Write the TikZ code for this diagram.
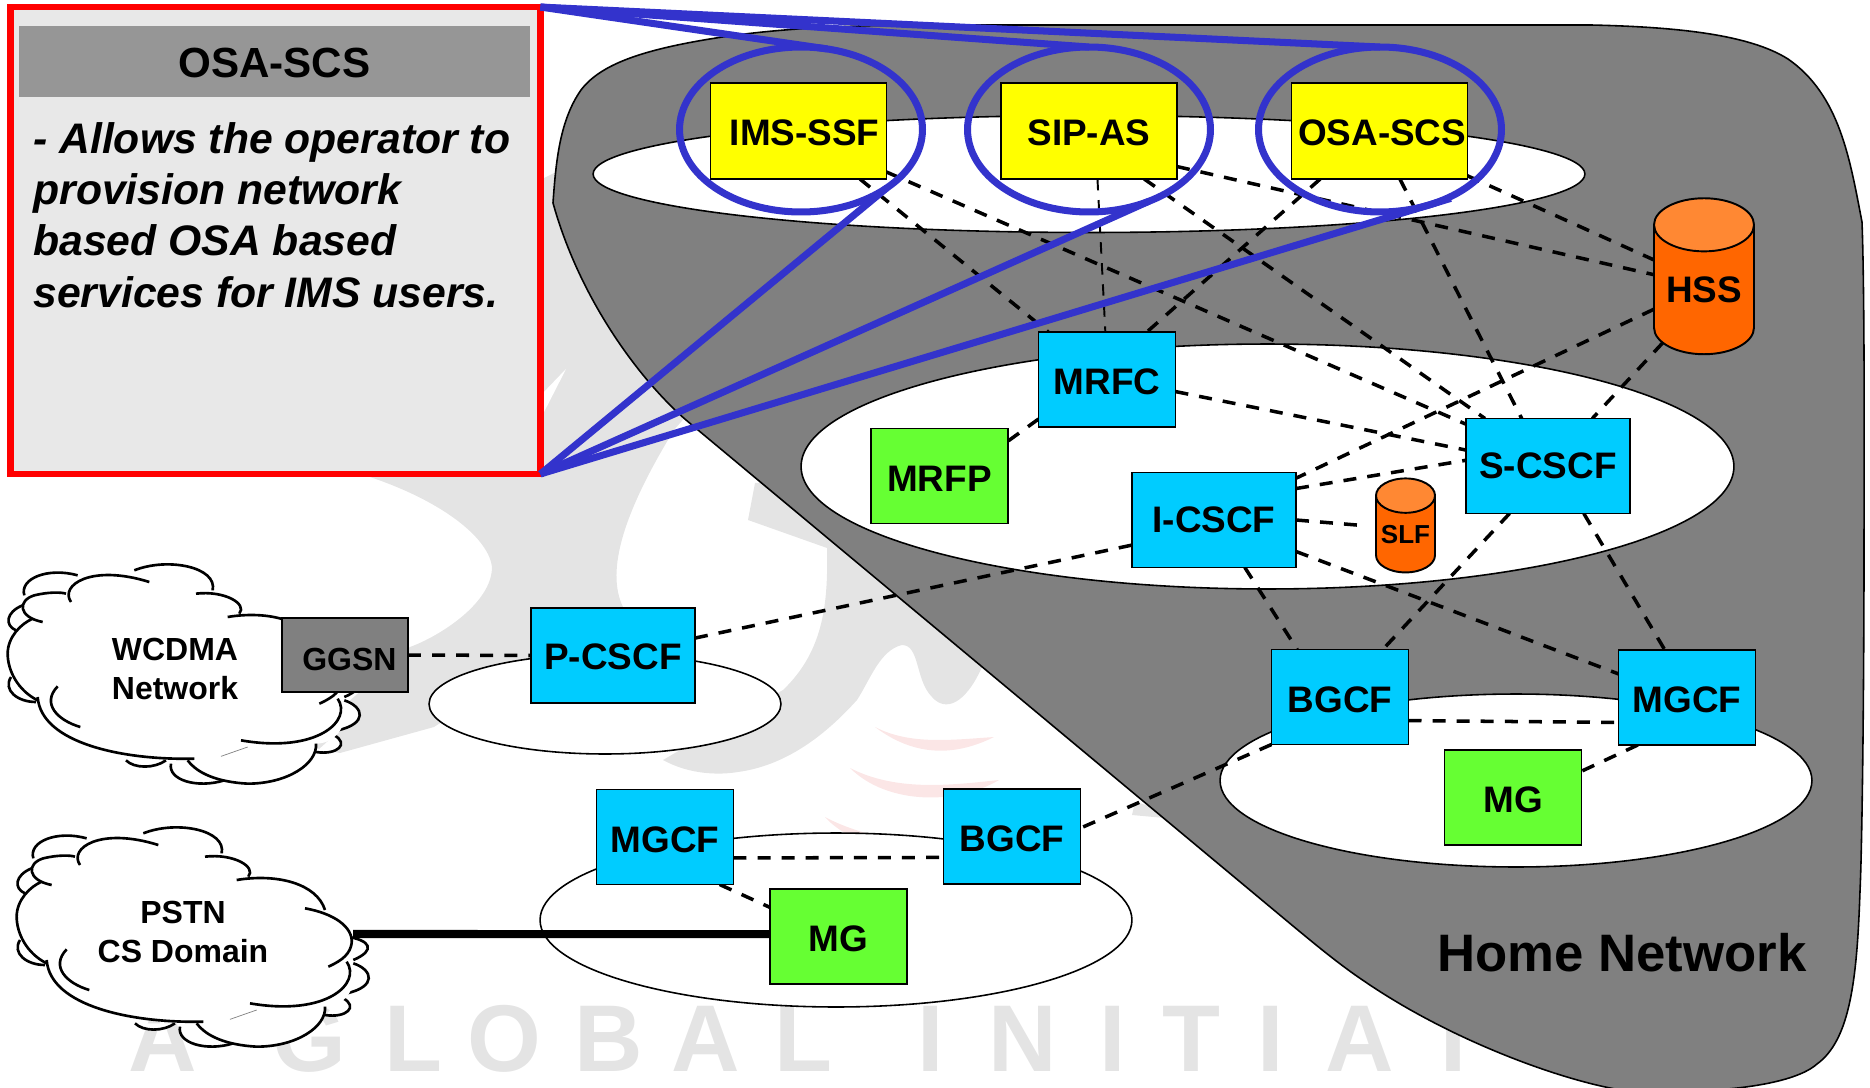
\documentclass[tikz,border=0pt]{standalone}
\usepackage{fontspec}
\setmainfont{Liberation Sans}
\usetikzlibrary{shapes.geometric}
\definecolor{boxyellow}{HTML}{FFFF00}
\definecolor{boxblue}{HTML}{00CCFF}
\definecolor{boxgreen}{HTML}{66FF33}
\definecolor{cylbody}{HTML}{FF6600}
\definecolor{cyltop}{HTML}{FF8833}
\definecolor{homegrey}{HTML}{808080}
\definecolor{ringblue}{HTML}{3333CC}
\definecolor{markgrey}{HTML}{E4E4E4}
\definecolor{markpink}{HTML}{FBE6E6}
\pgfdeclarelayer{base}
\pgfdeclarelayer{links}
\pgfdeclarelayer{over}
\pgfsetlayers{base,links,main,over}
\tikzset{
	netbox/.style={draw,line width=1.1pt,inner sep=0pt,outer sep=0pt,font=\bfseries\fontsize{21}{24}\selectfont},
	appbox/.style={netbox,fill=boxyellow,minimum width=3.52cm,minimum height=1.92cm,text height=16.5pt,text depth=0pt},
	cscfbox/.style={netbox,fill=boxblue,minimum width=3.28cm,minimum height=1.9cm},
	ctrlbox/.style={netbox,fill=boxblue,minimum width=2.74cm,minimum height=1.9cm,text height=17.4pt,text depth=0pt},
	gwbox/.style={netbox,fill=boxgreen,minimum width=2.74cm,minimum height=1.9cm,text height=17.6pt,text depth=0pt},
	dbcyl/.style={cylinder,shape border rotate=90,draw,line width=1.1pt,inner sep=0pt,outer sep=0pt,aspect=0.7,
		cylinder uses custom fill,cylinder body fill=cylbody,cylinder end fill=cyltop},
	lanzone/.style={ellipse,draw,line width=0.9pt,fill=white,inner sep=0pt,outer sep=0pt},
	bluering/.style={ellipse,draw=ringblue,line width=4pt,inner sep=0pt,outer sep=0pt,minimum width=4.86cm,minimum height=3.3cm},
	netlink/.style={line width=2pt,dash pattern=on 7.4pt off 6.3pt},
	thinlink/.style={line width=1.1pt,dash pattern=on 6.5pt off 5.5pt},
	bluelink/.style={draw=ringblue,line width=4pt},
	cloudtext/.style={font=\bfseries\fontsize{18.2}{22.4}\selectfont,align=center,inner sep=0pt},
	marktext/.style={anchor=base,inner sep=0pt,text=markgrey,font=\bfseries\fontsize{54}{60}\selectfont},
	netcloud/.pic={
		\begin{scope}[scale=1/3,line width=1.5pt]
			% lobes behind the body
			\draw[fill=white] (100,145) .. controls (85,95) and (170,60) .. (260,85);
			\draw[fill=white] (95,175) .. controls (45,195) and (40,235) .. (75,250);
			\draw[fill=white] (60,390) .. controls (35,430) and (80,465) .. (135,465);
			\draw[fill=white] (405,640) .. controls (430,665) and (490,665) .. (525,640);
			\draw[fill=white] (540,650) .. controls (530,700) and (620,725) .. (700,700);
			\draw[fill=white] (975,615) .. controls (1040,625) and (1075,590) .. (1030,565);
			\draw[fill=white] (1040,380) .. controls (1110,390) and (1130,420) .. (1060,450);
			\draw[fill=white] (1060,460) .. controls (1120,480) and (1130,530) .. (1040,550);
			% body
			\fill[white] (130,145) .. controls (170,135) and (210,135) .. (232,130)
				.. controls (250,80) and (350,65) .. (430,70)
				.. controls (530,30) and (680,60) .. (665,130)
				.. controls (700,130) and (770,170) .. (745,200)
				.. controls (830,190) and (950,220) .. (975,300)
				.. controls (1030,320) and (1060,350) .. (1055,400)
				.. controls (1055,430) and (1050,440) .. (1045,455)
				.. controls (1085,520) and (1040,590) .. (975,590)
				.. controls (980,650) and (890,710) .. (770,710)
				.. controls (680,705) and (620,680) .. (590,640)
				.. controls (400,640) and (150,590) .. (140,460)
				.. controls (80,430) and (50,370) .. (50,320)
				.. controls (50,270) and (90,230) .. (125,215)
				.. controls (80,210) and (80,160) .. cycle;
			% strokes of the body
			\draw (240,165) .. controls (205,115) and (300,50) .. (475,105);
			\draw (430,70) .. controls (530,30) and (680,60) .. (665,130);
			\draw (615,140) .. controls (700,130) and (770,170) .. (745,200);
			\draw (710,210) .. controls (830,190) and (950,220) .. (975,300);
			\draw (915,295) .. controls (1000,310) and (1060,350) .. (1055,400) .. controls (1050,430) and (1030,450) .. (985,470);
			\draw (1040,455) .. controls (1085,520) and (980,620) .. (750,580);
			\draw (975,590) .. controls (980,650) and (890,710) .. (770,710) .. controls (680,705) and (620,680) .. (590,640);
			\draw (610,635) .. controls (400,640) and (150,590) .. (140,450);
			\draw (200,418) .. controls (150,470) and (200,520) .. (268,540);
			\draw (140,460) .. controls (80,430) and (50,370) .. (50,320) .. controls (50,270) and (90,230) .. (125,215);
			\draw (155,225) .. controls (80,210) and (80,160) .. (130,145) .. controls (170,135) and (210,135) .. (225,140);
			\draw[gray,line width=0.4pt] (690,628) -- (770,600);
		\end{scope}
	}
}
\begin{document}
\begin{tikzpicture}[x=0.02cm,y=-0.02cm]
	\useasboundingbox (0,0) rectangle (1870,1088);
	\begin{pgfonlayer}{base}
		% faded mark behind everything
		\fill[markgrey] (300,300) -- (370,477) .. controls (447,503) and (489,540) .. (492,567)
			.. controls (492,603) and (440,636) .. (410,647) -- (300,745) -- (340,753) -- (434,727)
			-- (623,607) .. controls (605,570) and (625,510) .. (674,430) -- (700,400) -- (600,150) -- cycle;
		\fill[white] (541,395) -- (566,369) -- (541,418) -- cycle;
		\fill[markgrey] (755,483) -- (748,520) -- (827,548) .. controls (828,600) and (825,650) .. (783,690)
			-- (663,760) .. controls (690,775) and (720,775) .. (738,772)
			.. controls (790,765) and (830,730) .. (857,700) .. controls (870,680) and (880,650) .. (902,645)
			.. controls (920,645) and (915,680) .. (932,697) .. controls (945,712) and (965,705) .. (982,667)
			-- (1000,600) -- (900,480) -- cycle;
		\fill[markgrey] (1132,815) -- (1135,802) -- (1150,806) -- (1165,818) -- cycle;
		\fill[markpink] (875,727) .. controls (912,755) and (952,758) .. (994,737) .. controls (950,740) and (910,745) .. (875,727);
		\fill[markpink] (850,768) .. controls (887,805) and (957,805) .. (999,780) .. controls (952,785) and (897,792) .. (850,768);
		\fill[markpink] (825,817) .. controls (832,825) and (840,830) .. (848,835) -- (872,835) .. controls (855,830) and (840,825) .. (825,817);
		\foreach \mchar/\mx in {A/162.5,G/309,L/413,O/504,B/609,A/706,L/803,I/931,N/1023,I/1113,T/1191,I/1271,A/1360,T/1453}
			\node[marktext] (mark\mx) at (\mx,1071) {\mchar};
		% home network
		\draw[fill=homegrey,line width=0.9pt] (553,203) .. controls (556,160) and (560,120) .. (581,90)
			.. controls (600,65) and (640,50) .. (716,38) .. controls (780,28) and (850,25) .. (935,25)
			-- (1591,25) .. controls (1680,27) and (1750,35) .. (1788,59)
			.. controls (1840,95) and (1850,160) .. (1862,222) .. controls (1865,300) and (1864,500) .. (1864,544)
			.. controls (1864,700) and (1862,850) .. (1860,891) .. controls (1857,980) and (1850,1040) .. (1817,1064)
			.. controls (1790,1088) and (1700,1095) .. (1621,1090) .. controls (1560,1080) and (1450,1040) .. (1364,981)
			.. controls (1340,965) and (1316,945) .. (1293,926) -- (686,420)
			.. controls (640,380) and (580,300) .. (553,203) -- cycle;
		\node[lanzone,minimum width=19.84cm,minimum height=2.34cm] (lanapps) at (1089,174) {};
		\node[lanzone,minimum width=18.66cm,minimum height=4.9cm] (lancore) at (1267.5,466.5) {};
		\node[lanzone,minimum width=11.84cm,minimum height=3.46cm] (lanhome) at (1516,780.5) {};
		\node[lanzone,minimum width=11.84cm,minimum height=3.48cm] (lanpstn) at (836,920) {};
		\node[lanzone,minimum width=7.04cm,minimum height=2cm] (lanproxy) at (605,704) {};
	\end{pgfonlayer}

	% info box
	\node[draw=red,fill=black!9,line width=3.8pt,inner sep=0pt,outer sep=0pt,minimum width=10.6cm,minimum height=9.34cm] (osainfo) at (275.5,240.5) {};
	\node[fill=black!41,inner sep=0pt,minimum width=10.22cm,minimum height=1.42cm,text height=18.5pt,text depth=0pt,font=\bfseries\fontsize{24}{28}\selectfont] (osatitle) at (274.5,61.5) {OSA-SCS};
	\node[anchor=north west,inner sep=0pt,align=left,font=\bfseries\itshape\fontsize{24.3}{29.2}\selectfont] (osabody) at (33,122) {- Allows the operator to\\provision network\\based OSA based\\services for IMS users.};

	% clouds
	\pic at (-9,547) {netcloud};
	\pic at (0,810) {netcloud};
	\node[cloudtext] (wcdma) at (175,669) {WCDMA\\Network};
	\node[cloudtext] (pstn) at (183,932) {PSTN\\CS Domain};
	\coordinate (pstnport) at (353,934);

	% network elements
	\node[appbox] (imsssf) at (798.5,131) {\hspace*{7pt}IMS-SSF};
	\node[appbox] (sipas) at (1089,131) {SIP-AS};
	\node[appbox] (osascs) at (1379.5,131) {\hspace*{3pt}OSA-SCS};
	\node[ctrlbox] (mrfc) at (1107,379.5) {MRFC};
	\node[gwbox] (mrfp) at (939.5,476) {MRFP};
	\node[cscfbox] (icscf) at (1214,520) {I-CSCF};
	\node[cscfbox] (scscf) at (1548,466) {S-CSCF};
	\node[cscfbox,text height=15.5pt,text depth=0pt] (pcscf) at (613,655.5) {P-CSCF};
	\node[netbox,fill=homegrey,minimum width=2.52cm,minimum height=1.48cm,text height=18pt,text depth=0pt,font=\bfseries\fontsize{18.2}{21}\selectfont] (ggsn) at (345,655) {\hspace*{5pt}GGSN};
	\node[ctrlbox] (mgcflow) at (665,837) {MGCF};
	\node[gwbox] (mglow) at (838.5,936.5) {MG};
	\node[ctrlbox] (bgcflow) at (1012,836.5) {BGCF};
	\node[ctrlbox] (bgcfup) at (1340,697) {BGCF};
	\node[ctrlbox] (mgcfup) at (1687,697.5) {MGCF};
	\node[gwbox] (mgup) at (1513,797.5) {MG};
	\node[dbcyl,minimum width=2cm,minimum height=3.12cm,font=\bfseries\fontsize{21}{24}\selectfont] (hss) at (1704,290) {HSS};
	\node[dbcyl,minimum width=1.18cm,minimum height=1.88cm,font=\bfseries\fontsize{14.8}{18}\selectfont] (slf) at (1405.5,534.5) {SLF};
	\node[font=\bfseries\fontsize{30}{36}\selectfont,inner sep=0pt] (homelabel) at (1622,953) {Home Network};

	\begin{pgfonlayer}{links}
		\draw[netlink] (imsssf.-38) -- (mrfc.141);
		\draw[netlink] (imsssf.-25) -- (scscf.153);
		\draw[thinlink] (sipas.-80.5) -- (mrfc.92.4);
		\draw[netlink] (sipas.-41) -- (scscf.143.7);
		\draw[netlink] (sipas.-22) -- (hss.163);
		\draw[netlink] (osascs.-141) -- (mrfc.50);
		\draw[netlink] (osascs.-67) -- (scscf.119);
		\draw[netlink] (osascs.-27) -- (hss.149);
		\draw[netlink] (hss.201.8) -- (icscf.27.7);
		\draw[netlink] (hss.232.6) -- (scscf.47.5);
		\draw[netlink] (mrfc.-10.4) -- (scscf.169.6);
		\draw[netlink] (mrfc.210.8) -- (mrfp.27);
		\draw[netlink] (icscf.21.6) -- (scscf.176.9);
		\draw[netlink,shorten >=6pt] (icscf.east) -- (slf.165);
		\draw[netlink] (icscf.-57) -- (bgcfup.132.8);
		\draw[netlink] (icscf.-21.3) -- (mgcfup.161.2);
		\draw[netlink] (scscf.231) -- (bgcfup.48.9);
		\draw[netlink] (scscf.-53.3) -- (mgcfup.115.8);
		\draw[netlink] (bgcfup.-19.2) -- (mgcfup.200.3);
		\draw[netlink] (mgcfup.224.7) -- (mgup.21.7);
		\draw[netlink] (bgcfup.south west) -- (bgcflow.7);
		\draw[netlink] (mgcflow.-17.7) -- (bgcflow.197.3);
		\draw[netlink] (mgcflow.-41.3) -- (mglow.157.4);
		\draw[netlink] (pcscf.12.8) -- (icscf.197.6);
		\draw[netlink] (ggsn.east) -- (pcscf.west);
		\draw[line width=4.6pt] (pstnport) -- (mglow.178);
	\end{pgfonlayer}

	\begin{pgfonlayer}{over}
		\node[bluering] (ringims) at (801,129.5) {};
		\node[bluering] (ringsip) at (1089,129.5) {};
		\node[bluering] (ringosa) at (1380,129.5) {};
		\draw[bluelink] (osainfo.north east) -- (ringims.72.3);
		\draw[bluelink] (osainfo.north east) -- (ringsip.north);
		\draw[bluelink] (osainfo.north east) -- (ringosa.north);
		\draw[bluelink] (osainfo.south east) -- (ringims.-34.4);
		\draw[bluelink] (osainfo.south east) -- (ringsip.-50.3);
		\draw[bluelink,shorten >=-12pt] (osainfo.south east) -- (ringosa.-56.8);
	\end{pgfonlayer}
\end{tikzpicture}
\end{document}
